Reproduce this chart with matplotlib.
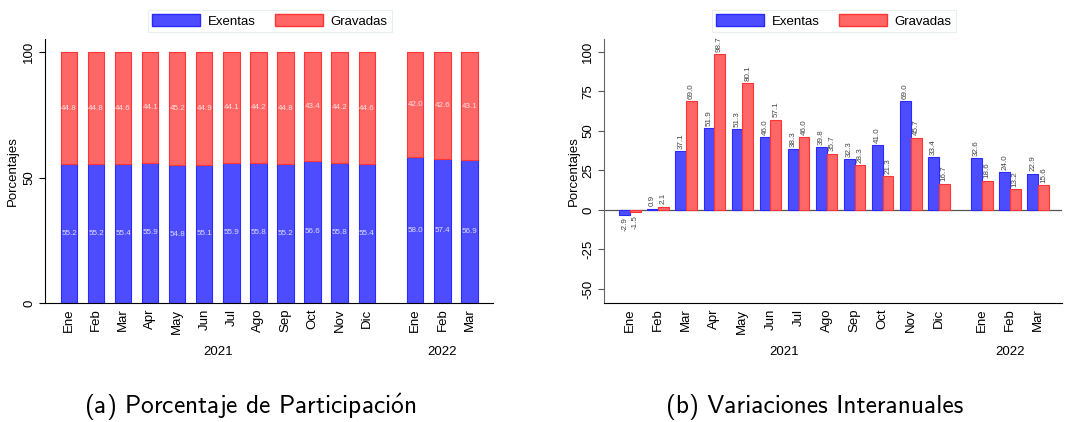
import matplotlib
matplotlib.use("Agg")
import matplotlib.pyplot as plt
from matplotlib.patches import Patch
import numpy as np

months = ["Ene", "Feb", "Mar", "Apr", "May", "Jun", "Jul", "Ago", "Sep", "Oct", "Nov", "Dic",
          "Ene", "Feb", "Mar"]
years = ["2021", "2022"]

part_exentas = [55.2, 55.2, 55.4, 55.9, 54.8, 55.1, 55.9, 55.8, 55.2, 56.6, 55.8, 55.4, 58.0, 57.4, 56.9]
part_gravadas = [44.8, 44.8, 44.6, 44.1, 45.2, 44.9, 44.1, 44.2, 44.8, 43.4, 44.2, 44.6, 42.0, 42.6, 43.1]

var_exentas = [-2.9, 0.9, 37.1, 51.9, 51.3, 46.0, 38.3, 39.8, 32.3, 41.0, 69.0, 33.4, 32.6, 24.0, 22.9]
var_gravadas = [-1.5, 2.1, 69.0, 98.7, 80.1, 57.1, 46.0, 35.7, 28.3, 21.3, 45.7, 16.7, 18.6, 13.2, 15.6]

BLUE_F, BLUE_E = "#4d4dff", "#2a2aff"
RED_F, RED_E = "#ff6666", "#ff3535"
FONT = ["Liberation Sans", "DejaVu Sans"]
plt.rcParams["font.family"] = FONT
plt.rcParams["mathtext.fontset"] = "cm"

fig = plt.figure(figsize=(10.68, 4.22), dpi=100)
W, H = 1068, 422
TFS = 9.5

def ax_at(x0, y0, x1, y1):
    return fig.add_axes([x0 / W, 1 - y1 / H, (x1 - x0) / W, (y1 - y0) / H])

handles = [Patch(facecolor=BLUE_F, edgecolor=BLUE_E), Patch(facecolor=RED_F, edgecolor=RED_E)]
LEG_KW = dict(ncol=2, fontsize=9.5, frameon=True, fancybox=False, edgecolor="#e4eaea",
              handlelength=3.6, handleheight=1.0, columnspacing=1.5, borderpad=0.35, handletextpad=0.6)

# ---------- (a) ----------
ax1 = ax_at(45, 39, 493, 303)
pos1 = np.array(list(range(12)) + [12.8, 13.8, 14.8])
ax1.bar(pos1, part_exentas, width=0.6, color=BLUE_F, edgecolor=BLUE_E, linewidth=0.8)
ax1.bar(pos1, part_gravadas, width=0.6, bottom=part_exentas, color=RED_F, edgecolor=RED_E, linewidth=0.8)
for p, e, g in zip(pos1, part_exentas, part_gravadas):
    ax1.text(p, e / 2, f"{e:.1f}", ha="center", va="center", fontsize=5.8, color="#dcdcff")
    ax1.text(p, e + g / 2, f"{g:.1f}", ha="center", va="center", fontsize=5.8, color="#ffe0e0")
ax1.set_xlim(-0.89, 15.67)
ax1.set_ylim(0, 105.2)
ax1.set_yticks([0, 50, 100])
ax1.set_yticklabels(["0", "50", "100"], rotation=90, va="center", fontsize=TFS)
ax1.set_xticks(pos1)
ax1.set_xticklabels(months, rotation=90, fontsize=TFS)
ax1.tick_params(axis="x", length=0, pad=4)
ax1.tick_params(axis="y", length=4, width=0.8, pad=3)
ax1.spines["top"].set_visible(False)
ax1.spines["right"].set_visible(False)
ax1.set_ylabel("Porcentajes", fontsize=TFS, labelpad=3)
ax1.text(5.5, -0.185, years[0], transform=ax1.get_xaxis_transform(), ha="center", va="center", fontsize=TFS)
ax1.text(13.8, -0.185, years[1], transform=ax1.get_xaxis_transform(), ha="center", va="center", fontsize=TFS)
leg1 = ax1.legend(handles, ["Exentas", "Gravadas"], loc="center",
                  bbox_to_anchor=((270 - 45) / 448, (303 - 21) / 264), **LEG_KW)
leg1.get_frame().set_linewidth(0.8)

# ---------- (b) ----------
ax2 = ax_at(604, 39, 1062, 303)
pos2 = np.array(list(range(12)) + [12.53, 13.53, 14.53])
bw = 0.38
ax2.axhline(0, color="#555555", linewidth=0.9, zorder=1)
ax2.bar(pos2 - bw / 2, var_exentas, width=bw, color=BLUE_F, edgecolor=BLUE_E, linewidth=0.8, zorder=2)
ax2.bar(pos2 + bw / 2, var_gravadas, width=bw, color=RED_F, edgecolor=RED_E, linewidth=0.8, zorder=2)
for p, e, g in zip(pos2, var_exentas, var_gravadas):
    for xx, v in [(p - bw / 2, e), (p + bw / 2, g)]:
        if v >= 0:
            ax2.text(xx, v + 1.5, f"{v:.1f}", rotation=90, ha="center", va="bottom", fontsize=5.8, color="#444444")
        else:
            ax2.text(xx, v - 1.5, f"{v:.1f}", rotation=90, ha="center", va="top", fontsize=5.8, color="#444444")
ax2.set_xlim(-0.925, 15.38)
ax2.set_ylim(-58.9, 108.2)
ax2.set_yticks([-50, -25, 0, 25, 50, 75, 100])
ax2.set_yticklabels(["-50", "-25", "0", "25", "50", "75", "100"], rotation=90, va="center", fontsize=TFS)
ax2.set_xticks(pos2)
ax2.set_xticklabels(months, rotation=90, fontsize=TFS)
ax2.tick_params(axis="x", length=0, pad=4)
ax2.tick_params(axis="y", length=4, width=0.8, color="#555555", pad=3)
ax2.spines["top"].set_visible(False)
ax2.spines["right"].set_visible(False)
ax2.spines["left"].set_color("#666666")
ax2.set_ylabel("Porcentajes", fontsize=TFS, labelpad=2)
ax2.text(5.5, -0.185, years[0], transform=ax2.get_xaxis_transform(), ha="center", va="center", fontsize=TFS)
ax2.text(13.53, -0.185, years[1], transform=ax2.get_xaxis_transform(), ha="center", va="center", fontsize=TFS)
leg2 = ax2.legend(handles, ["Exentas", "Gravadas"], loc="center",
                  bbox_to_anchor=((834 - 604) / 458, (303 - 21) / 264), **LEG_KW)
leg2.get_frame().set_linewidth(0.8)

# captions
cap_font = ["cmss10", "DejaVu Sans"]
fig.text(250 / W, 1 - 407 / H, r"(a) Porcentaje de Participaci$\mathsf{\acute{o}}$n", ha="center", va="center",
         fontsize=18.3, family=cap_font)
fig.text(815 / W, 1 - 407 / H, "(b) Variaciones Interanuales", ha="center", va="center",
         fontsize=18.3, family=cap_font)

fig.savefig("out.png", dpi=100)
